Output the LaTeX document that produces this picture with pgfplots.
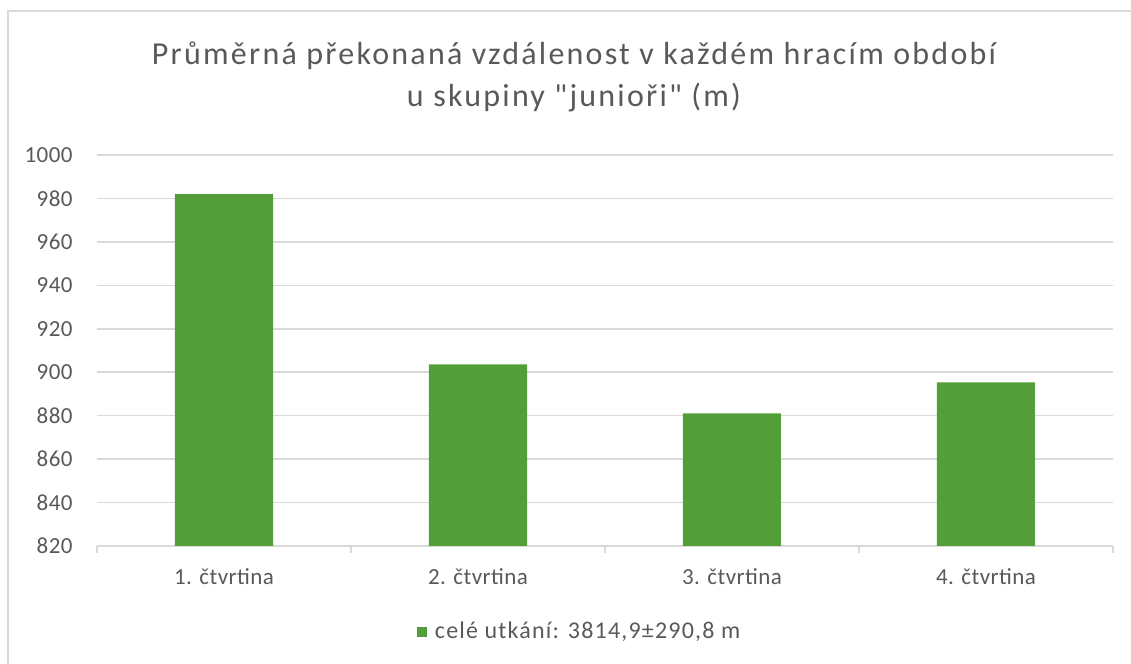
\documentclass[border=0pt]{standalone}
\usepackage{pgfplots}
\pgfplotsset{compat=1.18}
\usepackage{fontspec}
\setmainfont{Carlito}[Ligatures=TeXOff]
\definecolor{barc}{RGB}{84,158,57}
\definecolor{txt}{RGB}{89,89,89}
\definecolor{grd}{RGB}{217,217,217}
\begin{document}
\begin{tikzpicture}
\path[use as bounding box] (0,0) rectangle (565.5pt,332pt);
\draw[grd, line width=0.8pt] (4pt,0) -- (4pt,326.5pt) -- (565.5pt,326.5pt);
\node[anchor=base, text=txt, font=\fontsize{16pt}{19pt}\selectfont\addfontfeature{LetterSpace=7}, inner sep=0pt] at (287pt,299.5pt) {Průměrná překonaná vzdálenost v každém hracím období};
\node[anchor=base, text=txt, font=\fontsize{16pt}{19pt}\selectfont\addfontfeature{LetterSpace=7}, inner sep=0pt] at (287pt,278.5pt) {u skupiny "junioři" (m)};
\begin{axis}[
  at={(48.5pt,59pt)}, anchor=south west,
  scale only axis, width=508pt, height=195.5pt,
  xmin=-0.5, xmax=3.5, ymin=820, ymax=1000,
  ytick={820,840,...,1000},
  ymajorgrids, grid style={grd, line width=0.8pt},
  axis y line*=left, y axis line style={draw=none},
  axis x line*=bottom, x axis line style={grd, line width=0.8pt},
  xtick={0,1,2,3},
  xticklabels={1. čtvrtina,2. čtvrtina,3. čtvrtina,4. čtvrtina},
  major tick length=0pt,
  extra x ticks={-0.5,0.5,1.5,2.5,3.5},
  extra x tick labels={},
  extra x tick style={major tick length=3.5pt, tick align=outside, tick style={grd, line width=0.8pt}, xmajorgrids=false},
  ticklabel style={text=txt, font=\fontsize{11.5pt}{13pt}\selectfont\addfontfeature{LetterSpace=2}},
  /pgf/number format/assume math mode=true,
  /pgf/number format/1000 sep={},
  yticklabel style={anchor=east, inner sep=0pt, xshift=-12pt},
  xticklabel style={anchor=center, inner sep=0pt, yshift=-15.5pt},
  legend style={at={(0.476,-0.22)}, anchor=center, draw=none, fill=none, font=\fontsize{12pt}{14pt}\selectfont\addfontfeature{LetterSpace=5}, text=txt, inner sep=0pt},
  legend image code/.code={\fill[barc] (0pt,-2.5pt) rectangle (5pt,2.5pt);},
]
\addplot[ybar, bar width=49pt, fill=barc, draw=none, bar shift=0pt] coordinates {(0,982.0) (1,903.6) (2,881.1) (3,895.3)};
\addlegendentry{\hspace{2pt}celé utkání: 3814,9±290,8 m}
\end{axis}
\end{tikzpicture}
\end{document}
